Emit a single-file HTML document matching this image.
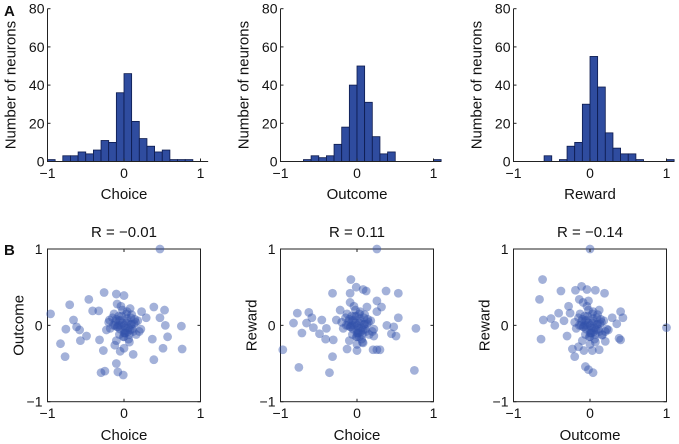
<!DOCTYPE html>
<html><head><meta charset="utf-8">
<style>
html,body{margin:0;padding:0;background:#fff;}
svg{display:block;font-family:"Liberation Sans",Arial,sans-serif;}
</style></head>
<body>
<svg id="fig" width="679" height="444" viewBox="0 0 679 444" xmlns="http://www.w3.org/2000/svg"></svg>
<script>
// ---- Histogram data (bins of width 0.1 starting at -1.0) ----
const binStarts = [-1.0,-0.9,-0.8,-0.7,-0.6,-0.5,-0.4,-0.3,-0.2,-0.1,0.0,0.1,0.2,0.3,0.4,0.5,0.6,0.7,0.8,0.9,1.0];
const histChoice  = [1,0,3,3,5,4,6,11,10,36,46,21,12,8,5,6,1,1,1,0,0];
const histOutcome = [0,0,0,1,3,2,3,9,18,40,50,31,13,4,5,0,0,0,0,0,1];
const histReward  = [0,0,0,0,3,0,1,8,10,30,55,39,15,7,4,4,1,0,0,0,1];
const histYTicks = [0,20,40,60,80];
const histXTicks = [-1,0,1];
const histLabels = ["Choice","Outcome","Reward"];

// ---- Scatter data ----
const s1x = [-0.96,-0.71,-0.46,-0.26,-0.1,0,0.47,0.39,0.53,-0.66,-0.76,-0.83,-0.77,-0.57,-0.62,-0.58,-0.49,-0.41,-0.33,-0.32,-0.27,-0.3,-0.25,-0.1,-0.08,-0.01,-0.05,0.12,0.39,0.51,0.75,0.76,0.57,0.54,0.37,0.23,0.29,0.47,0.08,-0.12,-0.23,-0.19,
  0.0,0.05,-0.05,0.1,-0.1,0.02,-0.03,0.08,-0.08,0.15,-0.15,0.0,0.04,-0.06,0.12,-0.12,0.18,-0.18,0.06,-0.02,0.1,-0.1,0.03,0.2,-0.04,0.07,-0.07,0.14,0.01,-0.13,0.09,0.22,-0.2,0.0,0.16,-0.09,
  0.02,-0.02,0.05,-0.06,0.09,-0.09,0.0,0.04,-0.04,0.11,-0.11,0.07,-0.07,0.01,0.13,-0.14,0.03,-0.01,0.06,-0.05];
const s1y = [0.15,0.27,0.34,0.43,0.41,0.39,1.0,0.24,0.2,0.07,-0.05,-0.24,-0.41,-0.2,-0.02,-0.06,-0.14,0.19,0.19,-0.19,-0.33,-0.62,-0.6,-0.5,-0.61,-0.65,-0.34,-0.38,-0.45,-0.3,-0.01,-0.31,-0.15,0,-0.18,0.18,0.1,0.1,0.22,-0.26,-0.06,0.07,
  0.0,0.05,-0.05,0.02,0.08,-0.1,0.12,-0.06,-0.02,0.04,0.1,-0.15,0.18,-0.12,-0.08,0.0,0.06,-0.04,-0.18,0.2,0.14,-0.2,0.03,-0.08,0.25,-0.22,0.0,0.08,-0.1,0.15,0.1,-0.05,0.04,-0.3,-0.12,0.28,
  -0.03,0.03,-0.08,0.06,0.01,-0.02,-0.1,0.09,0.0,-0.05,0.05,-0.12,0.12,-0.07,0.02,0.0,0.15,-0.15,-0.03,0.07];
const s2x = [0.26,-0.08,-0.01,0.08,0.12,0.38,0.54,-0.32,-0.09,0.26,0.32,-0.78,-0.63,-0.83,-0.66,-0.59,-0.72,-0.57,-0.46,-0.49,-0.4,-0.41,-0.31,-0.97,-0.32,-0.76,-0.36,0.75,0.77,0.54,0.39,0.48,0.45,0.51,0.22,0.08,0.21,0.26,0.3,-0.13,0,-0.22,-0.27,0.26,0.13,
  0.0,0.05,-0.05,0.1,-0.1,0.02,-0.03,0.08,-0.08,0.15,-0.15,0.0,0.04,-0.06,0.12,-0.12,0.18,-0.18,0.06,-0.02,0.1,-0.1,0.03,0.2,-0.04,0.07,-0.07,0.14,0.01,-0.13,0.09,0.22,-0.2,0.0,0.16,-0.09,0.03,-0.01,
  0.02,-0.02,0.05,-0.06,0.09,-0.09,0.0,0.04,-0.04,0.11,-0.11,0.07,-0.07,0.01,0.13,-0.14,0.03,-0.01,0.06,-0.05];
const s2y = [1.0,0.6,0.5,0.47,0.45,0.45,0.42,0.42,0.42,0.32,0.24,0.16,0.17,0.03,0.03,0.1,-0.1,-0.03,0.07,-0.11,-0.04,-0.18,-0.19,-0.32,-0.41,-0.55,-0.62,-0.59,-0.04,0.1,0,-0.02,-0.11,-0.14,-0.14,-0.23,-0.32,-0.32,-0.32,-0.31,-0.33,0.2,0.07,0.18,0.24,
  0.0,0.05,-0.05,0.02,0.08,-0.1,0.12,-0.06,-0.02,0.04,0.1,-0.15,0.18,-0.12,-0.08,0.0,0.06,-0.04,-0.18,0.2,0.14,-0.2,0.03,-0.08,0.25,-0.22,0.0,0.08,-0.1,0.15,0.1,-0.05,0.04,-0.25,-0.12,0.3,-0.15,0.12,
  -0.03,0.03,-0.08,0.06,0.01,-0.02,-0.1,0.09,0.0,-0.05,0.05,-0.12,0.12,-0.07,0.02,0.0,0.15,-0.15,-0.03,0.07];
const s3x = [0,-0.62,-0.38,-0.66,-0.19,-0.11,-0.04,0.07,0.19,-0.14,-0.02,-0.28,-0.61,-0.51,-0.46,-0.41,-0.34,-0.64,-0.3,-0.23,-0.2,-0.15,-0.08,0.03,0.12,-0.06,-0.02,0.04,1.0,0.4,0.43,0.35,0.29,0.38,0.4,0.2,0.16,0.24,0.12,-0.26,
  0.0,0.05,-0.05,0.1,-0.1,0.02,-0.03,0.08,-0.08,0.15,-0.15,0.0,0.04,-0.06,0.12,-0.12,0.18,-0.18,0.06,-0.02,0.1,-0.1,0.03,0.2,-0.04,0.07,-0.07,0.14,0.01,-0.13,0.09,0.22,-0.2,0.0,0.16,-0.09,
  0.02,-0.02,0.05,-0.06,0.09,-0.09,0.0,0.04,-0.04,0.11,-0.11,0.07,-0.07,0.01,0.13,-0.14,0.03,-0.01,0.06,-0.05];
const s3y = [1,0.6,0.45,0.34,0.46,0.51,0.47,0.46,0.42,0.34,0.32,0.25,0.07,0.09,0,0.16,0.06,-0.18,-0.14,-0.31,-0.41,-0.28,-0.33,-0.33,-0.32,-0.54,-0.58,-0.62,-0.03,0.18,0.1,0.02,0.1,-0.17,-0.19,-0.21,-0.13,-0.06,0.2,0.16,
  0.0,0.05,-0.05,0.02,0.08,-0.1,0.12,-0.06,-0.02,0.04,0.1,-0.15,0.18,-0.12,-0.08,0.0,0.06,-0.04,-0.18,0.2,0.14,-0.2,0.03,-0.08,0.25,-0.22,0.0,0.08,-0.1,0.15,0.1,-0.05,0.04,-0.25,-0.12,0.3,
  -0.03,0.03,-0.08,0.06,0.01,-0.02,-0.1,0.09,0.0,-0.05,0.05,-0.12,0.12,-0.07,0.02,0.0,0.15,-0.15,-0.03,0.07];
const scatterTitles = ["R = \u22120.01","R = 0.11","R = \u22120.14"];
const scatterXLabels = ["Choice","Choice","Outcome"];
const scatterYLabels = ["Outcome","Reward","Reward"];
const scatterTicks = [-1,0,1];

const NS = "http://www.w3.org/2000/svg";
const svg = document.getElementById('fig');
function mk(tag, attrs, parent){
  const e = document.createElementNS(NS, tag);
  for (const k in attrs) e.setAttribute(k, attrs[k]);
  (parent||svg).appendChild(e);
  return e;
}
function txt(s, attrs, parent){ const e = mk('text', attrs, parent); e.textContent = s; return e; }
function fmt(v){ return v<0 ? '\u2212'+Math.abs(v) : String(v); }

const colX = [47.5, 280.5, 513.5];

// ---- Histograms ----
const hists = [histChoice, histOutcome, histReward];
hists.forEach((counts, p) => {
  const g = mk('g', {});
  
  
  const x0 = colX[p], pxPerUnit = 76.5;
  const xs = v => x0 + (v + 1) * pxPerUnit;
  const ys = v => 161.5 - v * 1.91;
  counts.forEach((c, i) => {
    if (c <= 0) return;
    const r = mk('rect', {x: xs(binStarts[i]), y: ys(c), width: 0.1*pxPerUnit, height: ys(0)-ys(c),
      fill: '#2f4c9f', stroke: '#0c1a4d', 'stroke-width': 0.8}, g);
    
    
  });
  const ax = mk('path', {d:`M${x0},${ys(80)}V${ys(0)}H${xs(1.1)}`, fill:'none', stroke:'#222', 'stroke-width':1}, g);
  
  
  histYTicks.forEach(t => {
    mk('line', {x1:x0, x2:x0+3, y1:ys(t), y2:ys(t), stroke:'#222'}, g);
    const l = txt(String(t), {x:x0-3, y:ys(t)+5, 'font-size':14, 'text-anchor':'end', fill:'#111'}, g);
    
    
  });
  histXTicks.forEach(t => {
    mk('line', {x1:xs(t), x2:xs(t), y1:ys(0), y2:ys(0)-3, stroke:'#222'}, g);
    const l = txt(fmt(t), {x:xs(t), y:178, 'font-size':14, 'text-anchor':'middle', fill:'#111'}, g);
    
    
  });
  const xl = txt(histLabels[p], {x:xs(0), y:199, 'font-size':15, 'text-anchor':'middle', fill:'#111'}, g);
  
  
  const yl = txt('Number of neurons', {x:0, y:0, 'font-size':15, 'text-anchor':'middle', fill:'#111',
    transform:`translate(${x0-32},${ys(40)}) rotate(-90)`}, g);
  
  
});

// ---- Scatters ----
const scat = [[s1x,s1y],[s2x,s2y],[s3x,s3y]];
scat.forEach((d, p) => {
  const g = mk('g', {});
  
  
  const x0 = colX[p], w = 153;
  const top = 249, bot = 401.7;
  const xs = v => x0 + (v + 1) / 2 * w;
  const ys = v => bot - (v + 1) / 2 * (bot - top);
  const box = mk('rect', {x:x0, y:top, width:w, height:bot-top, fill:'none', stroke:'#222', 'stroke-width':1}, g);
  
  
  d[0].forEach((vx, i) => {
    const c = mk('circle', {cx: xs(vx), cy: ys(d[1][i]), r: 4.4, fill: 'rgba(52,82,170,0.45)'}, g);
    
    
  });
  scatterTicks.forEach(t => {
    mk('line', {x1:xs(t), x2:xs(t), y1:bot, y2:bot-3, stroke:'#222'}, g);
    mk('line', {x1:xs(t), x2:xs(t), y1:top, y2:top+3, stroke:'#222'}, g);
    mk('line', {x1:x0, x2:x0+3, y1:ys(t), y2:ys(t), stroke:'#222'}, g);
    mk('line', {x1:x0+w, x2:x0+w-3, y1:ys(t), y2:ys(t), stroke:'#222'}, g);
    const lx = txt(fmt(t), {x:xs(t), y:418, 'font-size':14, 'text-anchor':'middle', fill:'#111'}, g);
    
    
    const ly = txt(fmt(t), {x:x0-5, y:ys(t)+5, 'font-size':14, 'text-anchor':'end', fill:'#111'}, g);
    
    
  });
  const ti = txt(scatterTitles[p], {x:xs(0), y:237, 'font-size':15, 'text-anchor':'middle', fill:'#111'}, g);
  
  
  const xl = txt(scatterXLabels[p], {x:xs(0), y:440, 'font-size':15, 'text-anchor':'middle', fill:'#111'}, g);
  
  
  const yl = txt(scatterYLabels[p], {x:0, y:0, 'font-size':15, 'text-anchor':'middle', fill:'#111',
    transform:`translate(${x0-24},${ys(0)}) rotate(-90)`}, g);
  
  
});

const A = txt('A', {x:4, y:16, 'font-size':15, 'font-weight':'bold', fill:'#111'});


const B = txt('B', {x:4, y:255, 'font-size':15, 'font-weight':'bold', fill:'#111'});


</script>
</body></html>
